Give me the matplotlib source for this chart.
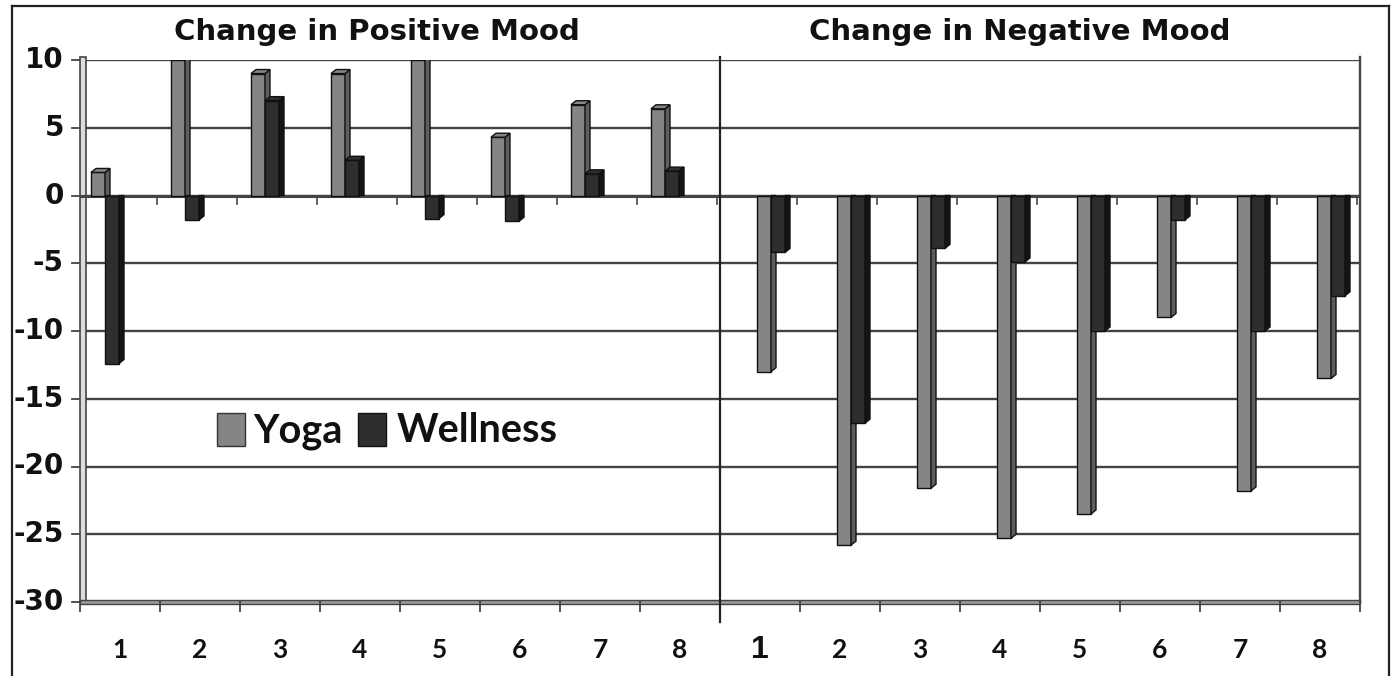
import matplotlib
matplotlib.use("Agg")
import matplotlib.pyplot as plt
from matplotlib.patches import Rectangle, Polygon

# Mood change per session (1-8), yoga vs. wellness group
sessions = ["1", "2", "3", "4", "5", "6", "7", "8"]
pos_yoga = [1.7, 10.0, 9.0, 9.0, 10.0, 4.3, 6.7, 6.4]
pos_wellness = [-12.4, -1.8, 7.0, 2.6, -1.7, -1.9, 1.6, 1.8]
neg_yoga = [-13.0, -25.8, -21.6, -25.3, -23.5, -9.0, -21.8, -13.5]
neg_wellness = [-4.2, -16.8, -3.9, -4.9, -10.0, -1.8, -10.0, -7.4]
panel_titles = ["Change in Positive Mood", "Change in Negative Mood"]
series_names = ["Yoga", "Wellness"]
y_ticks = [10, 5, 0, -5, -10, -15, -20, -25, -30]

W, H = 1399, 676
fig = plt.figure(figsize=(W / 100, H / 100), dpi=100)
fig.patch.set_facecolor("white")

# overlay in pixel units for the frame, titles and legend
ov = fig.add_axes([0, 0, 1, 1])
ov.set_xlim(0, W)
ov.set_ylim(H, 0)
ov.axis("off")

x0, x1 = 80, 1360
ytop, ybot = 60, 602
ax = fig.add_axes([x0 / W, (H - ybot) / H, (x1 - x0) / W, (ybot - ytop) / H])
ax.set_xlim(0, 16)
ax.set_ylim(-30, 10)
ax.axis("off")

grid_c = "#444444"
yoga_front, yoga_side = "#858585", "#5e5e5e"
well_front, well_side = "#2e2e2e", "#141414"

px_x = 16 / (x1 - x0)           # data units per pixel, x
px_y = 40 / (ybot - ytop)       # data units per pixel, y
dx, dy = 5 * px_x, 4 * px_y     # 3D depth offset
bw = 14 * px_x                  # bar front width

# gridlines on the back wall
for v in y_ticks[:-1]:
    ax.plot([6 * px_x, 16], [v, v], color=grid_c, lw=1.7, zorder=1, solid_capstyle="butt")
    ax.plot([-8 * px_x, 0], [v, v], color=grid_c, lw=1.3, zorder=1, clip_on=False)

# left wall (double line) and right edge
ax.add_patch(Rectangle((0, -30), 6 * px_x, 40 + 3 * px_y, facecolor="#dcdcdc",
                       edgecolor=grid_c, lw=1.2, zorder=1, clip_on=False))
ax.plot([16, 16], [-30, 10 + 3 * px_y], color=grid_c, lw=1.7, zorder=1, clip_on=False)
ax.plot([6 * px_x, 16], [10 + 3 * px_y, 10 + 3 * px_y], color=grid_c, lw=1.2, zorder=1)

# floor at -30 (double line) with ticks below
ax.add_patch(Rectangle((0, -30 - 2 * px_y), 16, 4 * px_y, facecolor="#9a9a9a",
                       edgecolor=grid_c, lw=1.0, zorder=2, clip_on=False))
ax.plot([-8 * px_x, 0], [-30, -30], color=grid_c, lw=1.3, clip_on=False)
for k in range(17):
    ax.plot([k, k], [-30, -30 - 9 * px_y], color=grid_c, lw=1.3, clip_on=False, zorder=2)

# zero axis with small ticks
ax.plot([0, 16], [0, 0], color=grid_c, lw=2.2, zorder=2)
for k in range(1, 17):
    xk = k - 3 * px_x
    ax.plot([xk, xk], [0, -8 * px_y], color=grid_c, lw=1.2, zorder=2)

# divider between the two panels
ax.plot([8, 8], [10 + 3 * px_y, -30 - 20 * px_y], color="#222222", lw=1.6,
        clip_on=False, zorder=6)


def bar3d(x, v, front, side, z):
    # front face
    ax.add_patch(Rectangle((x, 0), bw, v, facecolor=front, edgecolor="#111111",
                           lw=1.0, zorder=z))
    if v > 0:
        # side face and top face
        ax.add_patch(Polygon([(x + bw, 0), (x + bw + dx, 0), (x + bw + dx, v + dy), (x + bw, v)],
                             closed=True, facecolor=side, edgecolor="#111111", lw=1.0, zorder=z))
        ax.add_patch(Polygon([(x, v), (x + dx, v + dy), (x + bw + dx, v + dy), (x + bw, v)],
                             closed=True, facecolor=front, edgecolor="#111111", lw=1.0, zorder=z))
    else:
        # side face receding up-right at the bottom end
        ax.add_patch(Polygon([(x + bw, 0), (x + bw + dx, 0), (x + bw + dx, v + dy), (x + bw, v)],
                             closed=True, facecolor=side, edgecolor="#111111", lw=1.0, zorder=z))


panels = [(0, 11, pos_yoga, pos_wellness), (8, 37, neg_yoga, neg_wellness)]
for start, offset, yv, wv in panels:
    for i in range(len(sessions)):
        xl = start + i + offset * px_x
        bar3d(xl, yv[i], yoga_front, yoga_side, 3 + 0.01 * i)
        bar3d(xl + bw, wv[i], well_front, well_side, 4 + 0.01 * i)

# y tick labels
for v in y_ticks:
    ax.text(-16 * px_x, v, f"{v}", ha="right", va="center", fontsize=20,
            fontweight="bold", family="DejaVu Sans", color="#111111", clip_on=False)

# category labels
for start, _, _, _ in panels:
    for i, s in enumerate(sessions):
        big = (start == 8 and i == 0)
        ax.text(start + i + 0.5, -30 - 48 * px_y, s, ha="center", va="center",
                fontsize=23 if big else 19, fontweight="bold",
                family="Liberation Sans" if big else "Lato", color="#111111", clip_on=False)

# panel titles
ov.text(377, 32, panel_titles[0], ha="center", va="center", fontsize=21,
        fontweight="bold", family="DejaVu Sans", color="#111111")
ov.text(1020, 32, panel_titles[1], ha="center", va="center", fontsize=21,
        fontweight="bold", family="DejaVu Sans", color="#111111")

# legend box
ov.add_patch(Rectangle((212, 399), 346, 63, facecolor="white", edgecolor="none", zorder=8))
ov.add_patch(Rectangle((217, 413), 28, 33, facecolor=yoga_front, edgecolor="#333333",
                       lw=1.0, zorder=9))
ov.text(253, 431, series_names[0], ha="left", va="center", fontsize=28.5, fontweight="bold",
        family="Lato", color="#111111", zorder=9)
ov.add_patch(Rectangle((358, 413), 28, 33, facecolor=well_front, edgecolor="#111111",
                       lw=1.0, zorder=9))
ov.text(397, 431, series_names[1], ha="left", va="center", fontsize=28.5, fontweight="bold",
        family="Lato", color="#111111", zorder=9)

# outer frame
ov.plot([12, 1389], [6, 6], color="#222222", lw=1.6)
ov.plot([12, 12], [6, H], color="#222222", lw=1.6)
ov.plot([1389, 1389], [6, H], color="#222222", lw=1.6)

fig.savefig("out.png", dpi=100, facecolor="white")
